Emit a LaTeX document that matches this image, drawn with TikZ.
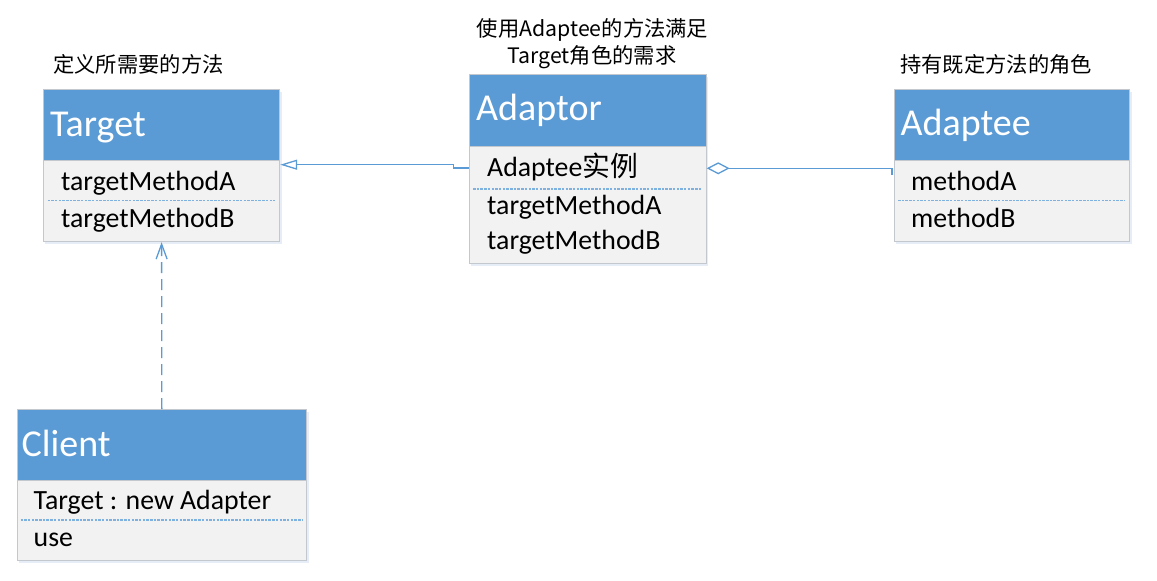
\documentclass[tikz,border=0pt]{standalone}
\usepackage{fontspec}
\setmainfont{Carlito}
\newfontfamily\cjk{Noto Sans CJK SC}
\usetikzlibrary{arrows.meta,calc}
\definecolor{hdrblue}{HTML}{5B9BD5}
\definecolor{bodygray}{HTML}{F2F2F2}
\definecolor{edgegray}{HTML}{C3C8CE}
\definecolor{shadowblue}{HTML}{DCE6F2}
\definecolor{divblue}{HTML}{7FB1E0}
\tikzset{
 hdr/.style={draw=edgegray, line width=1.2pt, fill=hdrblue, anchor=north west, inner sep=0, minimum height=71pt},
 bodybox/.style={draw=edgegray, line width=1.2pt, fill=bodygray, anchor=north west, inner sep=0},
 title/.style={anchor=base west, inner sep=0, text=white, font=\fontsize{38}{40}\selectfont},
 member/.style={anchor=base west, inner sep=0, font=\fontsize{27.8}{30}\selectfont},
 divider/.style={divblue, line width=1.1pt, dash pattern=on 2.5pt off 1.2pt},
 note/.style={inner sep=0, font=\cjk\fontsize{21.3}{26}\selectfont},
 conn/.style={hdrblue, line width=1.3pt},
 shadowbox/.style={fill=shadowblue, opacity=0.7},
}
\begin{document}
\begin{tikzpicture}[x=1pt,y=-1pt]
\useasboundingbox (0,0) rectangle (1157,581);
% shadows
\fill[shadowbox] (45,92) rectangle (281.5,244);
\fill[shadowbox] (471,77) rectangle (707.5,266);
\fill[shadowbox] (896,92) rectangle (1131.5,244);
\fill[shadowbox] (18.5,412) rectangle (308.5,563);

% Target
\node[hdr, minimum width=236pt] (tgtH) at (43,89) {};
\node[bodybox, minimum width=236pt, minimum height=81pt] (tgtB) at (43,160) {};
\node[title] (tgtT) at (50,136.7) {Target};
\node[member] (tgtM1) at (61,190) {targetMethodA};
\node[member] (tgtM2) at (61,227.7) {targetMethodB};
\draw[divider] (47.5,200.7) -- (275,200.7);

% Adaptor
\node[hdr, minimum width=236.5pt, minimum height=71.5pt] (adpH) at (469,74) {};
\node[bodybox, minimum width=236.5pt, minimum height=117.5pt] (adpB) at (469,145.5) {};
\node[title] (adpT) at (476,120) {Adaptor};
\node[member] (adpM0) at (487,176.7) {Adaptee{\cjk 实例}};
\node[member] (adpM1) at (487,214) {targetMethodA};
\node[member] (adpM2) at (487,249) {targetMethodB};
\draw[divider] (473,189) -- (701.5,189);

% Adaptee
\node[hdr, minimum width=235pt] (adeH) at (894,89) {};
\node[bodybox, minimum width=235pt, minimum height=81pt] (adeB) at (894,160) {};
\node[title] (adeT) at (900.5,135) {Adaptee};
\node[member] (adeM1) at (911,190) {methodA};
\node[member] (adeM2) at (911,227) {methodB};
\draw[divider] (898,200.7) -- (1125,200.7);

% Client
\node[hdr, minimum width=289.5pt] (clH) at (16.5,409) {};
\node[bodybox, minimum width=289.5pt, minimum height=80pt] (clB) at (16.5,480) {};
\node[title] (clT) at (21.5,456) {Client};
\node[member] (clM1) at (33.5,509.3) {Target : new Adapter};
\node[member] (clM2) at (33.5,546) {use};
\draw[divider] (20.5,520) -- (302,520);

% notes
\node[note, anchor=base west] (n1) at (53,72) {定义所需要的方法};
\node[note, anchor=base] (n2a) at (592.5,36.3) {使用Adaptee的方法满足};
\node[note, anchor=base] (n2b) at (592,63) {Target角色的需求};
\node[note, anchor=base west] (n3) at (900,72.3) {持有既定方法的角色};

% connectors
\draw[conn, -{Triangle[open, length=17pt, width=10pt, fill=white]}]
  ($(adpB.north west)+(0,22.5)$) -- ++(-15.5,0) -- ++(0,-3.3) -- ($(tgtB.north east)+(0,4.7)$);
\draw[conn, {Diamond[open, length=23pt, width=12pt, fill=white]}-]
  ($(adpB.north east)+(0,22.8)$) -| ($(adeB.north west)+(-2,15)$);
\draw[conn, dash pattern=on 11pt off 6pt, -{Straight Barb[length=15pt, width=11pt]}]
  (clH.north) -- (tgtB.south);
\end{tikzpicture}
\end{document}
